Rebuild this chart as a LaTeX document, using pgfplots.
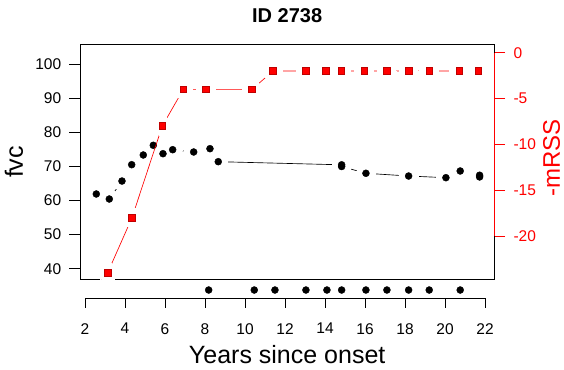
\documentclass[border=0pt]{standalone}
\usepackage{pgfplots}
\pgfplotsset{compat=1.18}
\usepackage{fontspec}
\setmainfont{Liberation Sans}
\definecolor{rred}{RGB}{255,0,0}
\begin{document}
\begin{tikzpicture}
\useasboundingbox (-80pt,-89.7pt) rectangle (484pt,279.3pt);
\pgfplotsset{
  every tick label/.append style={font=\fontsize{15.5}{18}\selectfont},
  every axis/.append style={scale only axis, at={(0pt,0pt)}, anchor=south west},
}
% ---------- left axis: fvc ----------
\begin{axis}[
  width=414.3pt, height=235pt,
  xmin=1.75, xmax=22.47, ymin=36.90, ymax=105.77,
  axis x line=none, axis y line*=left, axis line style={-, line width=0.9pt},
  xtick=\empty,
  ytick={40,50,60,70,80,90,100},
  yticklabels={40,50,60,70,80,90,100},
  yticklabel style={xshift=-4.8pt},
  tick align=outside, major tick length=10.5pt,
  tick style={line width=0.9pt, black},
  clip=false,
]
\addplot[black, line width=0.65pt] coordinates {
(2.565,61.9) (3.215,60.43) (3.85,65.7) (4.335,70.49) (4.915,73.33) (5.415,76.17)
(5.9,73.71) (6.385,74.88) (7.435,74.21) (8.25,75.18) (8.665,71.37)
(14.835,70.45) (14.835,69.95) (16.05,67.97) (18.185,67.17) (20.05,66.68)
(20.765,68.64) (21.735,67.4) (21.735,66.9)};
\addplot[only marks, mark=*, mark size=9.5pt, mark options={fill=white, draw=white, line width=0pt}] coordinates {
(2.565,61.9) (3.215,60.43) (3.85,65.7) (4.335,70.49) (4.915,73.33) (5.415,76.17)
(5.9,73.71) (6.385,74.88) (7.435,74.21) (8.25,75.18) (8.665,71.37)
(14.835,70.45) (14.835,69.95) (16.05,67.97) (18.185,67.17) (20.05,66.68)
(20.765,68.64) (21.735,67.4) (21.735,66.9)};
\addplot[only marks, mark=*, mark size=3.5pt, mark options={fill=black, draw=black}] coordinates {
(2.565,61.9) (3.215,60.43) (3.85,65.7) (4.335,70.49) (4.915,73.33) (5.415,76.17)
(5.9,73.71) (6.385,74.88) (7.435,74.21) (8.25,75.18) (8.665,71.37)
(14.835,70.45) (14.835,69.95) (16.05,67.97) (18.185,67.17) (20.05,66.68)
(20.765,68.64) (21.735,67.4) (21.735,66.9)};
% bottom row of dots
\addplot[only marks, mark=*, mark size=3.5pt, mark options={fill=black, draw=black}] coordinates {
(8.185,33.76) (10.465,33.76) (11.5,33.76) (13.05,33.76) (14.1,33.76) (14.835,33.76)
(16.05,33.76) (17.1,33.76) (18.185,33.76) (19.215,33.76) (20.765,33.76)};
\end{axis}
% ---------- right axis: -mRSS ----------
\begin{axis}[
  width=414.3pt, height=235pt,
  xmin=1.75, xmax=22.47, ymin=-24.72, ymax=0.92,
  axis on top,
  axis line style={line width=0.9pt, black},
  xtick=\empty,
  ytick pos=right, yticklabel pos=right,
  ytick={-20,-15,-10,-5,0},
  yticklabels={-20,-15,-10,-5,0},
  tick align=outside, major tick length=10.7pt,
  tick style={line width=0.9pt, rred},
  yticklabel style={text=rred, xshift=5pt},
]
\addplot[rred, line width=0.65pt] coordinates {
(3.135,-24) (4.35,-18) (5.865,-8) (6.915,-4) (8.05,-4) (10.35,-4) (11.4,-2)
(13.05,-2) (14.035,-2) (14.815,-2) (15.965,-2) (17.085,-2) (18.185,-2)
(19.215,-2) (20.715,-2) (21.665,-2)};
\addplot[only marks, mark=*, mark size=9.5pt, mark options={fill=white, draw=white, line width=0pt}] coordinates {
(3.135,-24) (4.35,-18) (5.865,-8) (6.915,-4) (8.05,-4) (10.35,-4) (11.4,-2)
(13.05,-2) (14.035,-2) (14.815,-2) (15.965,-2) (17.085,-2) (18.185,-2)
(19.215,-2) (20.715,-2) (21.665,-2)};
\addplot[only marks, mark=square*, mark size=3.3pt, mark options={fill=rred, draw=rred!75!black, line width=0.6pt}] coordinates {
(3.135,-24) (4.35,-18) (5.865,-8) (6.915,-4) (8.05,-4) (10.35,-4) (11.4,-2)
(13.05,-2) (14.035,-2) (14.815,-2) (15.965,-2) (17.085,-2) (18.185,-2)
(19.215,-2) (20.715,-2) (21.665,-2)};
\coordinate (rtop) at (axis cs:22.47,0);
\coordinate (rbot) at (axis cs:22.47,-20);
\end{axis}
\draw[rred, line width=0.9pt] (rbot) -- (rtop);
% ---------- separate x axis ----------
\begin{axis}[
  at={(5pt,-19pt)}, anchor=south west,
  width=400pt, height=1pt,
  xmin=2, xmax=22, ymin=0, ymax=1,
  axis y line=none, axis x line*=bottom,
  axis line style={-, line width=0.9pt, black},
  xtick={2,4,6,8,10,12,14,16,18,20,22},
  xticklabels={2,4,6,8,10,12,14,16,18,20,22},
  xticklabel style={yshift=-12pt},
  tick align=outside, major tick length=9.5pt,
  tick style={line width=0.9pt, black},
]
\end{axis}
% ---------- texts ----------
\node[anchor=base, font=\fontsize{20}{24}\selectfont\bfseries] at (207.2pt,256.6pt) {ID 2738};
\node[anchor=base, font=\fontsize{25}{30}\selectfont] at (207.2pt,-84.3pt) {Years since onset};
\node[rotate=90, font=\fontsize{25}{30}\selectfont] at (-66pt,117.3pt) {fvc};
\node[rotate=90, text=rred, font=\fontsize{24}{29}\selectfont, inner sep=1pt] at (471.5pt,121pt) {-mRSS};
\end{tikzpicture}
\end{document}
